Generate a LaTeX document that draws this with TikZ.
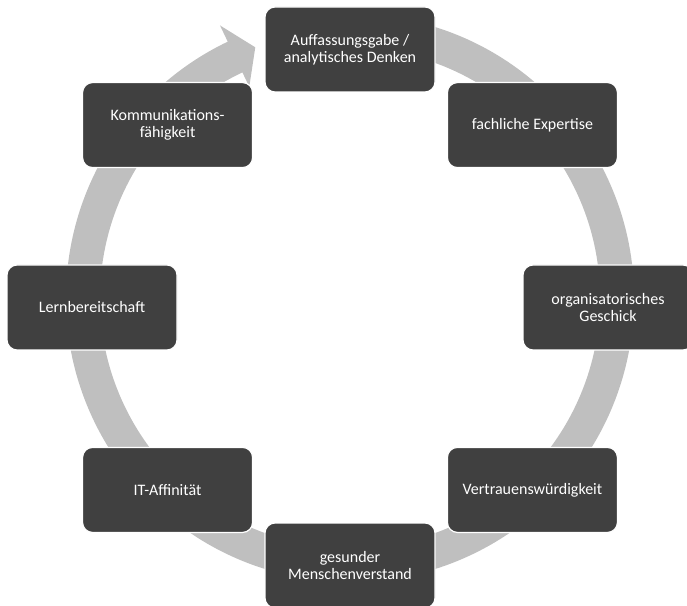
\documentclass[tikz,border=0pt]{standalone}
\usepackage{fontspec}
\setmainfont{Carlito}
\usepackage{tikz}
\usetikzlibrary{calc,arrows,arrows.meta,shapes,backgrounds}
\usepackage{xcolor}
\definecolor{kastengrau}{HTML}{404040}
\definecolor{ringgrau}{HTML}{BFBFBF}

\begin{document}
\begin{tikzpicture}[x=1pt,y=1pt,
	kasten/.style={fill=kastengrau,draw=white,line width=1.2pt,rounded corners=10pt,
		minimum width=170pt,minimum height=85pt,align=center,text=white,
		font=\fontsize{16}{17.5}\selectfont}]


\useasboundingbox (0,0) rectangle (687,605);

\coordinate (mitte) at (350,297.5);% boxes
\coordinate (ring) at (350,307);% ring arrow


% ring with arrow head
\fill[ringgrau] ($(ring)+(80:284)$) arc[start angle=80,end angle=-244.5,radius=284]
-- ($(ring)+(-244.5:302)$) -- ($(ring)+(-249.3:268)$) -- ($(ring)+(-244.5:234)$)
-- ($(ring)+(-244.5:250)$) arc[start angle=-244.5,end angle=80,radius=250] -- cycle;



\node[kasten] (auffassung) at ($(mitte)+(90:258)$) {Auffassungsgabe /\\analytisches Denken};
\node[kasten] (expertise) at ($(mitte)+(45:258)$) {fachliche Expertise};
\node[kasten] (organisation) at ($(mitte)+(0:258)$) {organisatorisches\\Geschick};
\node[kasten] (vertrauen) at ($(mitte)+(-45:258)$) {Vertrauenswürdigkeit};
\node[kasten] (verstand) at ($(mitte)+(-90:258)$) {gesunder\\Menschenverstand};
\node[kasten] (itaffin) at ($(mitte)+(-135:258)$) {IT-Affinität};
\node[kasten] (lernen) at ($(mitte)+(180:258)$) {Lernbereitschaft};
\node[kasten] (kommunikation) at ($(mitte)+(135:258)$) {Kommunikations-\\fähigkeit};


\end{tikzpicture}
\end{document}
